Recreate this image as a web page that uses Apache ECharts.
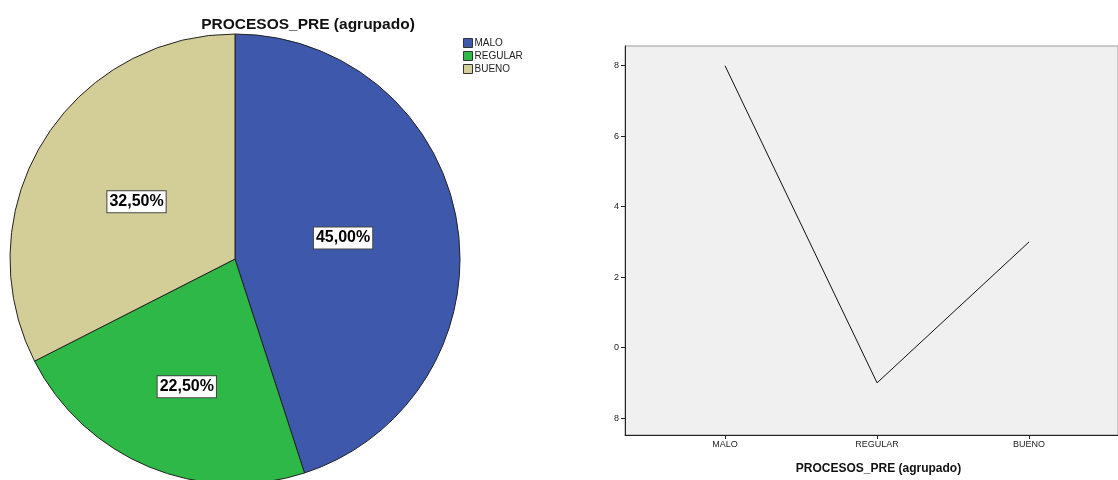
<!DOCTYPE html>
<html>
<head>
<meta charset="utf-8">
<script src="https://cdn.jsdelivr.net/npm/echarts@6/dist/echarts.min.js"></script>
<style>
  html, body { margin: 0; padding: 0; background: #fff; }
  #chart { width: 1118px; height: 480px; }
</style>
</head>
<body>
<div id="chart"></div>
<script>
// Frequencies of PROCESOS_PRE grouped into three levels
const categories = ['MALO', 'REGULAR', 'BUENO'];
const counts = [18, 9, 13];
const sliceColors = ['#3e58ac', '#2eb848', '#d3ce97'];
const yTicks = [8, 10, 12, 14, 16, 18];
const xTicks = [0, 1, 2];
const titleText = 'PROCESOS_PRE (agrupado)';

// Small nudges for the percentage boxes inside each slice
const labelOffsets = [[-6, -3], [-4, 21], [0, 3]];

const total = counts.reduce((a, b) => a + b, 0);
const pieData = categories.map((name, i) => ({
  name: name,
  value: counts[i],
  itemStyle: { color: sliceColors[i] },
  label: { offset: labelOffsets[i] }
}));
const lineData = categories.map((name, i) => [i, counts[i]]);

const font = '"Liberation Sans", Arial, sans-serif';

const chart = echarts.init(document.getElementById('chart'));
chart.setOption({
  animation: false,
  backgroundColor: '#ffffff',
  title: {
    text: titleText,
    left: 303,
    top: 12,
    textAlign: 'center',
    textStyle: { fontFamily: font, fontSize: 15.5, fontWeight: 'bold', color: '#111' }
  },
  legend: {
    orient: 'vertical',
    left: 458,
    top: 33,
    itemWidth: 9,
    itemHeight: 9,
    itemGap: 3,
    icon: 'rect',
    data: categories,
    itemStyle: { borderColor: '#333', borderWidth: 1 },
    textStyle: { fontFamily: font, fontSize: 10, color: '#222', padding: [0, 0, 0, -3] }
  },
  grid: {
    left: 625,
    top: 46,
    right: 0,
    bottom: 43,
    show: true,
    backgroundColor: '#f0f0f0',
    borderColor: '#999',
    borderWidth: 1
  },
  xAxis: {
    type: 'value',
    min: -0.658,
    max: 2.585,
    splitLine: { show: false },
    axisLine: { show: true, onZero: false, lineStyle: { color: '#222', width: 1 } },
    axisTick: { show: true, customValues: xTicks, length: 4, lineStyle: { color: '#222' } },
    axisLabel: {
      customValues: xTicks,
      formatter: v => categories[v],
      fontFamily: font, fontSize: 9, color: '#222', margin: 5
    },
    name: titleText,
    nameLocation: 'middle',
    nameGap: 28,
    nameTextStyle: { fontFamily: font, fontSize: 12, fontWeight: 'bold', color: '#111', padding: [0, 0, 0, 14] }
  },
  yAxis: {
    type: 'value',
    min: 7.52,
    max: 18.56,
    splitLine: { show: false },
    axisLine: { show: true, onZero: false, lineStyle: { color: '#222', width: 1 } },
    axisTick: { show: true, customValues: yTicks, length: 4, lineStyle: { color: '#222' } },
    axisLabel: {
      customValues: yTicks,
      formatter: v => String(v).slice(-1),
      fontFamily: font, fontSize: 9, color: '#222', margin: 6
    }
  },
  series: [
    {
      type: 'pie',
      center: [235, 259],
      radius: 225,
      startAngle: 90,
      clockwise: true,
      data: pieData,
      itemStyle: { borderColor: '#222', borderWidth: 1 },
      label: {
        show: true,
        position: 'inside',
        formatter: p => (p.value / total * 100).toFixed(2).replace('.', ',') + '%',
        fontFamily: font,
        fontSize: 16,
        fontWeight: 'bold',
        color: '#000',
        backgroundColor: '#fff',
        borderColor: '#444',
        borderWidth: 1,
        padding: [3, 2, 2, 2]
      },
      labelLine: { show: false },
      emphasis: { disabled: true }
    },
    {
      type: 'line',
      data: lineData,
      showSymbol: false,
      symbol: 'none',
      lineStyle: { color: '#111', width: 1 },
      emphasis: { disabled: true }
    }
  ]
});
</script>
</body>
</html>
